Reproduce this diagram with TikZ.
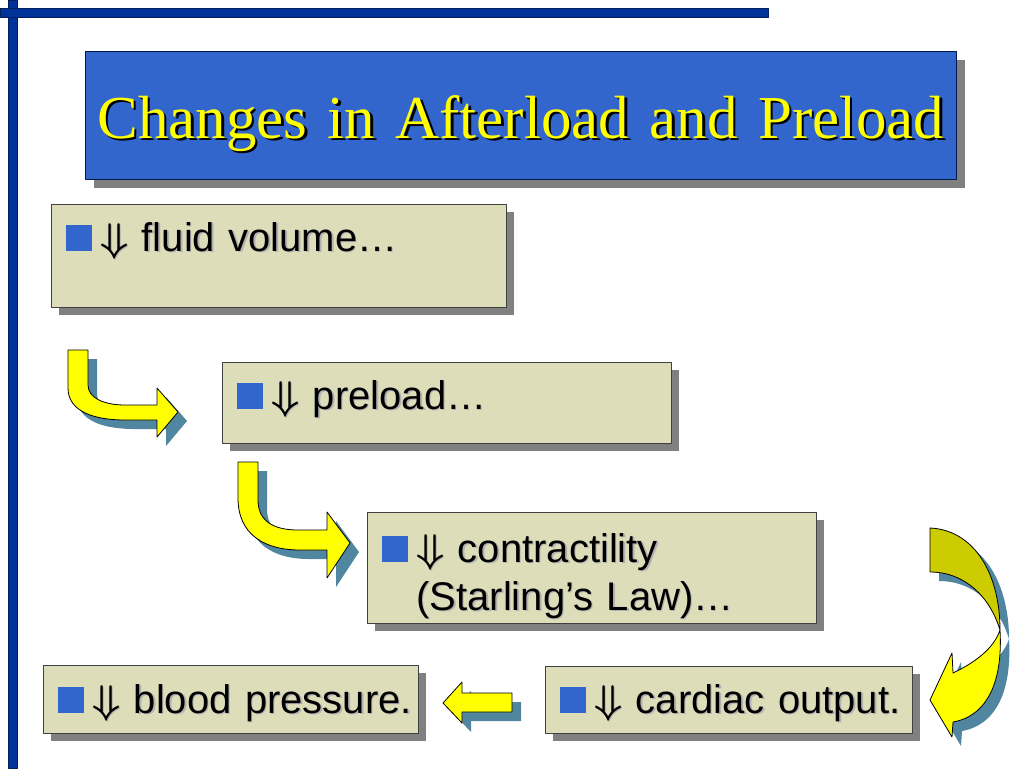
\documentclass[tikz,border=0pt]{standalone}
\usepackage{fix-cm}
\usepackage{fontspec}
\setmainfont{Liberation Sans}
\newfontfamily\titlefont{Liberation Serif}
\usetikzlibrary{shadows}

\definecolor{framenavy}{RGB}{0,51,153}
\definecolor{titleblue}{RGB}{51,102,204}
\definecolor{titleyellow}{RGB}{255,255,0}
\definecolor{boxfill}{RGB}{222,221,186}
\definecolor{boxshade}{RGB}{128,128,128}
\definecolor{bulletblue}{RGB}{51,102,204}
\definecolor{turnyellow}{RGB}{255,255,0}
\definecolor{turnolive}{RGB}{204,204,0}
\definecolor{turnshade}{RGB}{80,134,160}

% text with a soft copy behind it, shifted down-right
\newcommand\shtxt[3]{\makebox[0pt][l]{\hspace{#2}\raisebox{-#2}{\textcolor{#1}{#3}}}\mbox{#3}}
\newcommand\dn{\textcolor{bulletblue}{\rule{26pt}{26pt}}\nobreak\hspace{8pt}\nobreak}
\newcommand\fall{{\boldmath$\Downarrow$}}

\tikzset{
  bar/.style={fill=framenavy, draw=framenavy!60!black, line width=0.8pt},
  headbox/.style={anchor=north west, inner sep=0pt, fill=titleblue, draw=framenavy!50!black,
    line width=0.8pt, text width=871pt, align=center, text height=87pt, text depth=41pt,
    text=titleyellow, font=\titlefont\fontsize{61}{70}\selectfont,
    drop shadow={shadow xshift=9pt, shadow yshift=-9pt, fill=boxshade, opacity=1}},
  box/.style={anchor=north west, inner xsep=15pt, inner ysep=0pt, fill=boxfill, draw=black!75,
    line width=0.8pt, align=left, font=\fontsize{40}{48}\selectfont,
    drop shadow={shadow xshift=8pt, shadow yshift=-8pt, fill=boxshade, opacity=1}},
  turn/.style={fill=turnyellow, draw=black, line width=0.8pt,
    drop shadow={shadow xshift=9pt, shadow yshift=-9pt, fill=turnshade, opacity=1}},
}

\begin{document}
\begin{tikzpicture}[x=1pt, y=-1pt, line join=round]
  \useasboundingbox[fill=white] (0,0) rectangle (1024,768);
  \draw[bar] (8,0) rectangle (17,768);
  \draw[bar] (0,8) rectangle (768,17);

  \node[headbox] (title) at (85,51) {\shtxt{black}{2.5pt}{Changes in Afterload and Preload}};

  \node[box, text width=425pt, text height=47pt, text depth=56pt] (fluid) at (51,204)
    {\dn\shtxt{black!30}{1.5pt}{\fall{} fluid volume…}};
  \node[box, text width=419pt, text height=47pt, text depth=34pt] (preload) at (222,362)
    {\dn\shtxt{black!30}{1.5pt}{\fall{} preload…}};
  \node[box, text width=419pt, text height=50pt, text depth=61pt] (contract) at (367,512)
    {\dn\shtxt{black!30}{1.5pt}{\fall{} contractility}\\
     \hspace*{34pt}\shtxt{black!30}{1.5pt}{(Starling’s Law)…}};
  \node[box, text width=345pt, text height=48pt, text depth=20pt] (bp) at (43,665)
    {\dn\shtxt{black!30}{1.5pt}{\fall{} blood pressure.}};
  \node[box, text width=337pt, text height=47pt, text depth=20pt] (co) at (545,666)
    {\dn\shtxt{black!30}{1.5pt}{\fall{} cardiac output.}};

  % bent arrows down the staircase
  \draw[turn] (68,350) -- (68,388) .. controls (68,412) and (95,420) .. (125,420) -- (157,420)
    -- (157,437) -- (178,412) -- (157,388) -- (157,405) -- (125,405)
    .. controls (104,405) and (88,398) .. (88,385) -- (88,350) -- cycle;
  \draw[turn] (238,462) -- (238,498) .. controls (238,535) and (265,550) .. (300,550) -- (327,550)
    -- (327,578) -- (350,543) -- (327,512) -- (327,530) -- (298,530)
    .. controls (272,530) and (258,520) .. (258,500) -- (258,462) -- cycle;
  % twisted arrow on the right: back face first, then the front face
  \draw[turn, fill=turnolive] (930,528) .. controls (975,530) and (1000,575) .. (1000,630)
    .. controls (990,597) and (965,572) .. (930,572) -- cycle;
  \draw[turn] (1000,630) .. controls (1003,682) and (987,716) .. (953,722) -- (952,737)
    -- (930,700) -- (952,653) -- (953,673) .. controls (976,662) and (994,648) .. (1000,630) -- cycle;
  \draw[turn] (443,703) -- (462,682) -- (462,693) -- (512,693) -- (512,712) -- (462,712)
    -- (462,723) -- cycle;
\end{tikzpicture}
\end{document}
